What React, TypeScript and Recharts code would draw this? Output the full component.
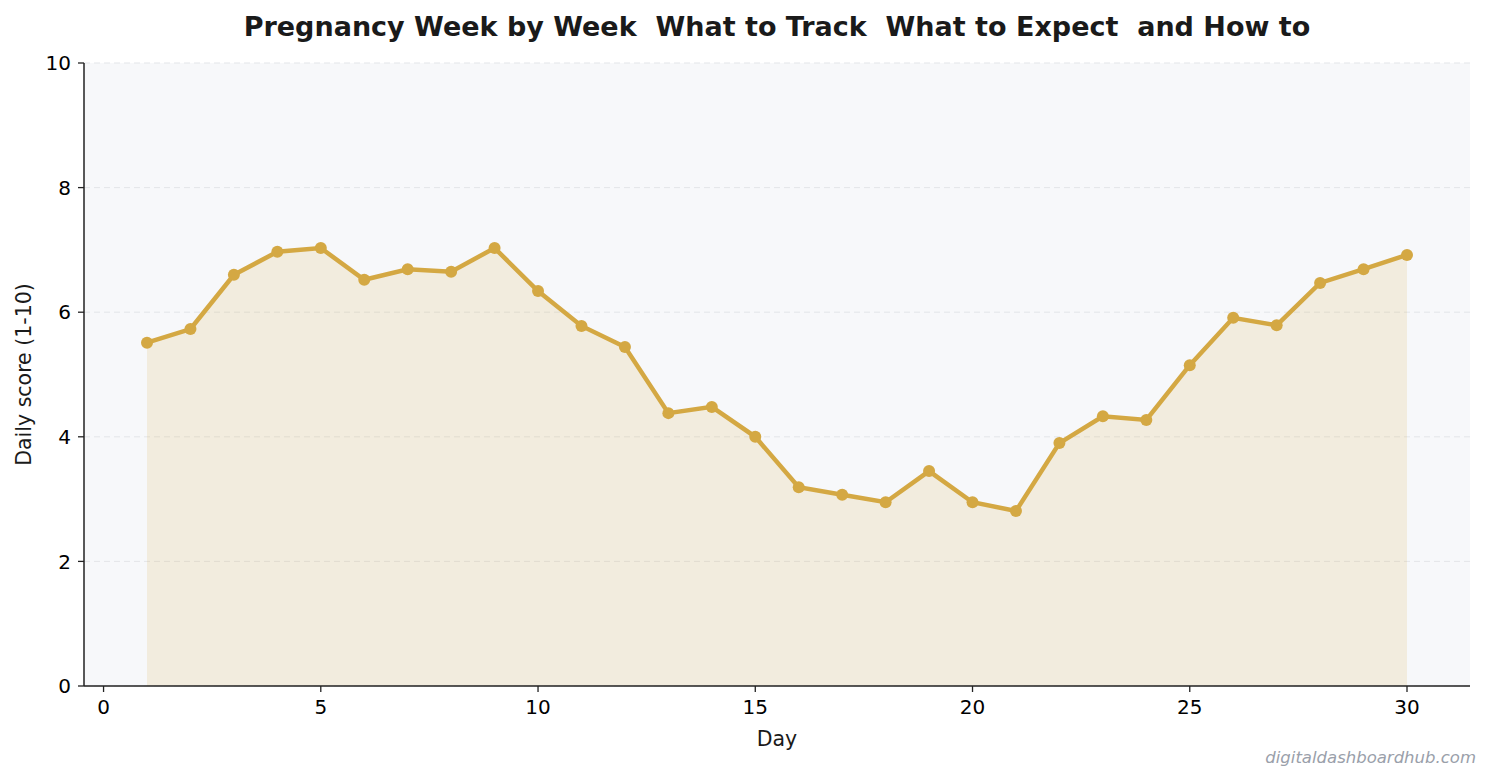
import React from 'react';
import { ComposedChart, Area, Line, XAxis, YAxis, CartesianGrid, Label } from 'recharts';

const days = [1,2,3,4,5,6,7,8,9,10,11,12,13,14,15,16,17,18,19,20,21,22,23,24,25,26,27,28,29,30];
const scores = [5.51,5.73,6.60,6.97,7.03,6.52,6.69,6.65,7.03,6.34,5.78,5.44,4.38,4.48,4.00,3.19,3.07,2.95,3.45,2.95,2.81,3.90,4.33,4.27,5.15,5.91,5.79,6.47,6.69,6.92];
const xTicks = [0,5,10,15,20,25,30];
const yTicks = [0,2,4,6,8,10];
const title = 'Pregnancy Week by Week  What to Track  What to Expect  and How to';
const watermark = 'digitaldashboardhub.com';

const data = days.map((d, i) => ({ day: d, score: scores[i] }));

const FONT = '"DejaVu Sans", sans-serif';
const GOLD = '#d4a843';

export default function App() {
  return (
    <div style={{ position: 'absolute', left: 0, top: 0, width: 1492, height: 783, background: '#fff', fontFamily: FONT }}>
      <div style={{ position: 'absolute', left: 84, width: 1386, top: 10, textAlign: 'center', fontSize: 27, fontWeight: 'bold', color: '#1a1a1a', whiteSpace: 'pre', lineHeight: '34px' }}>
        {title}
      </div>
      <ComposedChart width={1492} height={783} data={data} margin={{ top: 63, right: 22, bottom: 67, left: 0 }}>
        <CartesianGrid vertical={false} fill="#f7f8fa" stroke="#e3e5e8" strokeDasharray="6 4" strokeWidth={1} />
        <XAxis
          dataKey="day"
          type="number"
          domain={[-0.45, 31.45]}
          ticks={xTicks}
          allowDataOverflow
          tick={{ fill: '#000', fontSize: 20, fontFamily: FONT }}
          tickLine={{ stroke: '#222', strokeWidth: 1.3 }}
          axisLine={{ stroke: '#222', strokeWidth: 1.5 }}
          tickSize={6}
          tickMargin={8}
          height={30}
        >
          <Label value="Day" position="insideBottom" offset={-30} style={{ fill: '#1a1a1a', fontSize: 20.5, fontFamily: FONT }} />
        </XAxis>
        <YAxis
          type="number"
          domain={[0, 10]}
          ticks={yTicks}
          allowDataOverflow
          width={84}
          tick={{ fill: '#000', fontSize: 20, fontFamily: FONT }}
          tickLine={{ stroke: '#222', strokeWidth: 1.3 }}
          axisLine={{ stroke: '#222', strokeWidth: 1.5 }}
          tickSize={6}
          tickMargin={7}
        >
          <Label value="Daily score (1-10)" angle={-90} position="insideLeft" offset={24} style={{ fill: '#1a1a1a', fontSize: 20.5, fontFamily: FONT, textAnchor: 'middle' }} />
        </YAxis>
        <Area dataKey="score" type="linear" stroke="none" fill={GOLD} fillOpacity={0.15} isAnimationActive={false} />
        <Line dataKey="score" type="linear" stroke={GOLD} strokeWidth={4.5} dot={{ r: 6, fill: GOLD, stroke: GOLD, strokeWidth: 0 }} activeDot={false} isAnimationActive={false} />
      </ComposedChart>
      <div style={{ position: 'absolute', right: 16, top: 748, fontSize: 16.5, fontStyle: 'italic', color: '#9aa0aa' }}>
        {watermark}
      </div>
    </div>
  );
}
